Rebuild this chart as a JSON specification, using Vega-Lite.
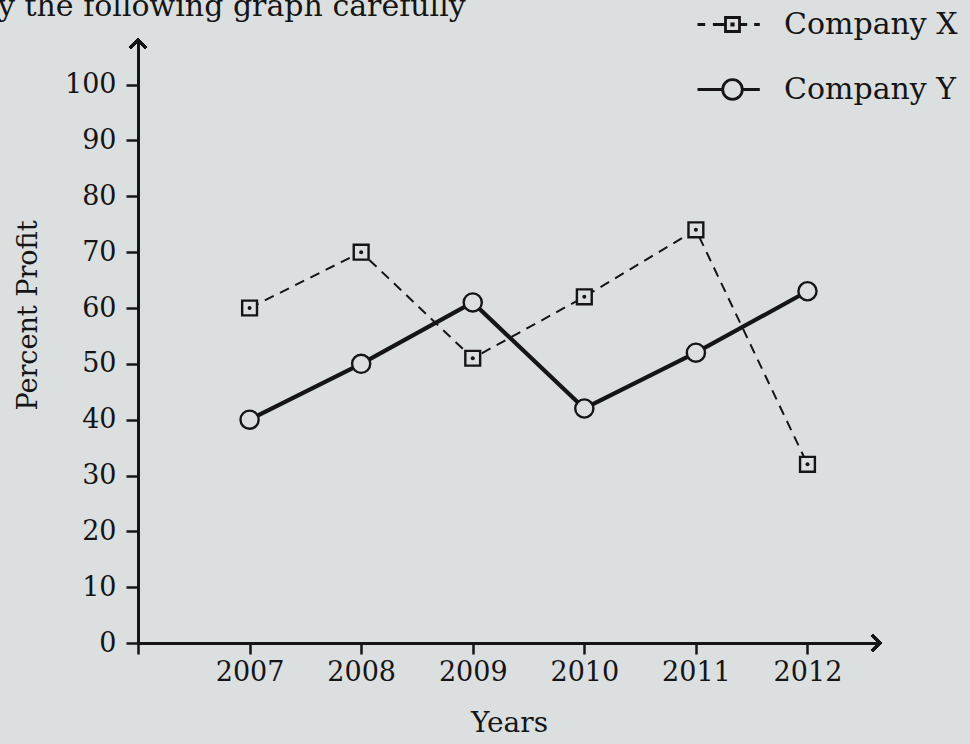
{
  "$schema": "https://vega.github.io/schema/vega-lite/v6.json",
  "width": 742,
  "height": 603,
  "autosize": {"type": "none"},
  "padding": {"left": 138, "top": 40, "right": 90, "bottom": 101},
  "background": "#dcdfe0",
  "title": {
    "text": "y the following graph carefully",
    "anchor": "start",
    "frame": "group",
    "fontSize": 30,
    "fontWeight": "normal",
    "font": "DejaVu Serif",
    "color": "#151515",
    "baseline": "alphabetic",
    "dx": -140,
    "dy": 32,
    "offset": -26
  },
  "config": {
    "font": "DejaVu Serif",
    "view": {"stroke": null},
    "axis": {
      "domainColor": "#151515",
      "tickColor": "#151515",
      "labelColor": "#151515",
      "titleColor": "#151515",
      "labelFont": "DejaVu Serif",
      "titleFont": "DejaVu Serif",
      "titleFontWeight": "normal",
      "grid": false
    }
  },
  "data": {
    "values": [
      {"year": 2007, "company": "Company X", "profit": 60},
      {"year": 2008, "company": "Company X", "profit": 70},
      {"year": 2009, "company": "Company X", "profit": 51},
      {"year": 2010, "company": "Company X", "profit": 62},
      {"year": 2011, "company": "Company X", "profit": 74},
      {"year": 2012, "company": "Company X", "profit": 32},
      {"year": 2007, "company": "Company Y", "profit": 40},
      {"year": 2008, "company": "Company Y", "profit": 50},
      {"year": 2009, "company": "Company Y", "profit": 61},
      {"year": 2010, "company": "Company Y", "profit": 42},
      {"year": 2011, "company": "Company Y", "profit": 52},
      {"year": 2012, "company": "Company Y", "profit": 63}
    ]
  },
  "layer": [
    {
      "transform": [{"filter": "datum.company == 'Company X'"}],
      "mark": {"type": "line", "color": "#151515", "strokeDash": [10, 7], "strokeWidth": 2},
      "encoding": {
        "x": {
          "field": "year",
          "type": "quantitative",
          "scale": {"domain": [2006, 2012.65], "nice": false, "zero": false},
          "axis": {
            "values": [2006, 2007, 2008, 2009, 2010, 2011, 2012],
            "format": "d",
            "labelExpr": "datum.value == 2006 ? '' : datum.label",
            "domainWidth": 3,
            "tickWidth": 2.5,
            "tickSize": 11,
            "labelFontSize": 27,
            "labelPadding": 5,
            "title": "Years",
            "titleFontSize": 28,
            "titlePadding": 24
          }
        },
        "y": {
          "field": "profit",
          "type": "quantitative",
          "scale": {"domain": [0, 108], "nice": false},
          "axis": {
            "values": [0, 10, 20, 30, 40, 50, 60, 70, 80, 90, 100],
            "domainWidth": 3,
            "tickWidth": 2.5,
            "tickSize": 12,
            "labelFontSize": 27,
            "labelPadding": 10,
            "title": "Percent Profit",
            "titleFontSize": 27,
            "titlePadding": 22,
            "titleY": 275
          }
        }
      }
    },
    {
      "transform": [{"filter": "datum.company == 'Company Y'"}],
      "mark": {"type": "line", "color": "#151515", "strokeWidth": 4.2},
      "encoding": {
        "x": {"field": "year", "type": "quantitative"},
        "y": {"field": "profit", "type": "quantitative"}
      }
    },
    {
      "mark": {"type": "point", "filled": false, "color": "#151515", "opacity": 0},
      "encoding": {
        "x": {"field": "year", "type": "quantitative"},
        "y": {"field": "profit", "type": "quantitative"},
        "shape": {
          "field": "company",
          "type": "nominal",
          "scale": {
            "domain": ["Company X", "Company Y"],
            "range": [
              "M-1,0H-0.78M-0.56,0H-0.22M0.22,0H0.42M0.62,0H0.78M-0.2,-0.2H0.2V0.2H-0.2ZM-0.02,-0.02H0.02V0.02H-0.02Z",
              "M-1,0H-0.28M0.28,0H0.78M0.28,0A0.28,0.28 0 1,1 -0.28,0A0.28,0.28 0 1,1 0.28,0Z"
            ]
          },
          "legend": {
            "title": null,
            "orient": "none",
            "legendX": 558,
            "legendY": -52,
            "symbolSize": 4900,
            "symbolStrokeWidth": 2.8,
            "symbolStrokeColor": "#151515",
            "symbolFillColor": "transparent",
            "symbolOpacity": 1,
            "labelFontSize": 30,
            "labelFont": "DejaVu Serif",
            "labelColor": "#151515",
            "labelOffset": 15,
            "labelLimit": 300,
            "rowPadding": 13,
            "encoding": {
              "symbols": {"update": {"opacity": {"value": 1}, "strokeOpacity": {"value": 1}}}
            }
          }
        }
      }
    },
    {
      "transform": [{"filter": "datum.company == 'Company X'"}],
      "mark": {"type": "point", "shape": "square", "size": 220, "filled": true, "fill": "#dcdfe0", "stroke": "#151515", "strokeWidth": 2.4, "opacity": 1},
      "encoding": {
        "x": {"field": "year", "type": "quantitative"},
        "y": {"field": "profit", "type": "quantitative"}
      }
    },
    {
      "transform": [{"filter": "datum.company == 'Company X'"}],
      "mark": {"type": "circle", "size": 16, "color": "#151515", "opacity": 1},
      "encoding": {
        "x": {"field": "year", "type": "quantitative"},
        "y": {"field": "profit", "type": "quantitative"}
      }
    },
    {
      "transform": [{"filter": "datum.company == 'Company Y'"}],
      "mark": {"type": "point", "shape": "circle", "size": 330, "filled": true, "fill": "#dcdfe0", "stroke": "#151515", "strokeWidth": 2.4, "opacity": 1},
      "encoding": {
        "x": {"field": "year", "type": "quantitative"},
        "y": {"field": "profit", "type": "quantitative"}
      }
    },
    {
      "mark": {"type": "point", "shape": "M-1,1L0,0L1,1", "size": 260, "filled": false, "stroke": "#151515", "strokeWidth": 3, "opacity": 1},
      "encoding": {
        "x": {"datum": 2006},
        "y": {"datum": 108}
      }
    },
    {
      "mark": {"type": "point", "shape": "M-1,-1L0,0L-1,1", "size": 260, "filled": false, "stroke": "#151515", "strokeWidth": 3, "opacity": 1},
      "encoding": {
        "x": {"datum": 2012.65},
        "y": {"datum": 0}
      }
    }
  ]
}
